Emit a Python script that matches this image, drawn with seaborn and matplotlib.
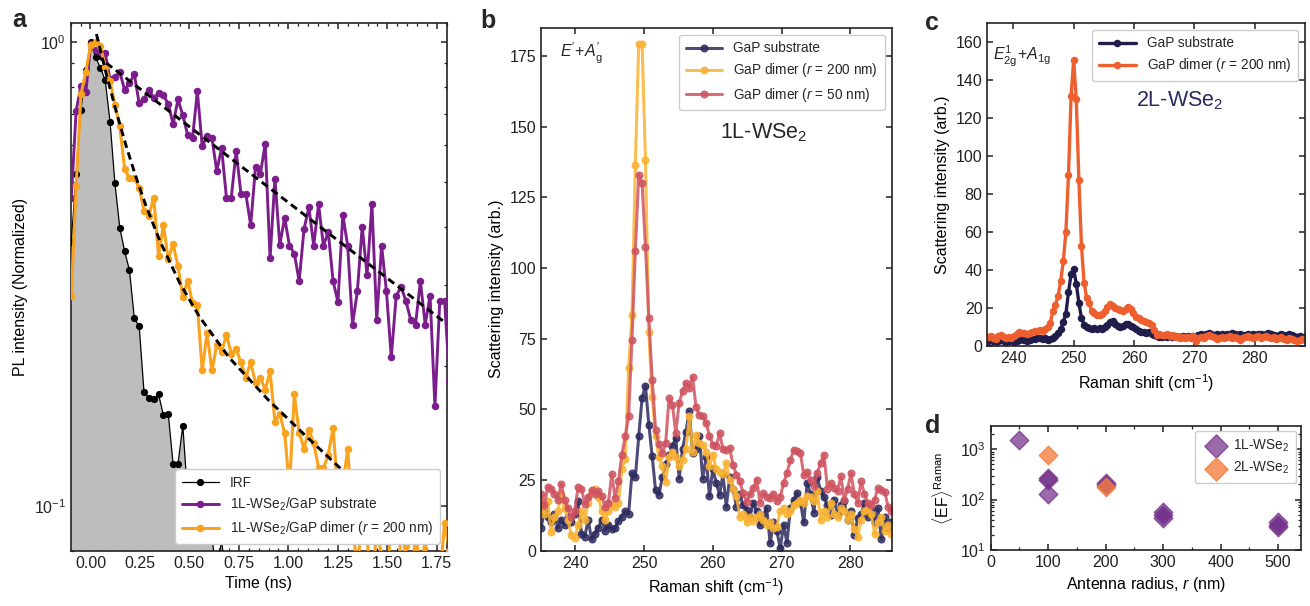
import numpy as np
import matplotlib
matplotlib.use("Agg")
import matplotlib.pyplot as plt
import seaborn as sns
from matplotlib.ticker import (MultipleLocator, FormatStrFormatter, LogLocator,
                               NullFormatter)

# ---------------- panel a: time-resolved photoluminescence ----------------
t_start, t_step = -0.097, 0.0245          # TCSPC bin grid (ns)

irf = [0.37, 0.52, 0.715, 0.87, 1.0, 0.927, 0.88, 0.826, 0.672, 0.496,
       0.398, 0.354, 0.322, 0.254, 0.244, 0.176, 0.171, 0.170, 0.174, 0.157,
       0.158, 0.123, 0.123, 0.149, 0.105, 0.095, 0.084, 0.092, 0.088, 0.086,
       0.070, 0.085, 0.066, 0.060, 0.055, 0.050, 0.045]

pl_substrate = [0.46, 0.71, 0.805, 0.78, 0.99, 0.96, 0.94, 0.945, 0.83, 0.84,
                0.862, 0.787, 0.815, 0.852, 0.737, 0.755, 0.789, 0.758, 0.775, 0.767,
                0.735, 0.665, 0.752, 0.695, 0.63, 0.62, 0.783, 0.596, 0.626, 0.622,
                0.527, 0.591, 0.462, 0.462, 0.582, 0.47, 0.47, 0.403, 0.538, 0.52,
                0.603, 0.342, 0.507, 0.365, 0.418, 0.364, 0.35, 0.305, 0.395, 0.44,
                0.364, 0.447, 0.364, 0.389, 0.305, 0.275, 0.424, 0.364, 0.246, 0.29,
                0.40, 0.314, 0.447, 0.252, 0.364, 0.29, 0.209, 0.283, 0.297, 0.277,
                0.252, 0.246, 0.305, 0.246, 0.284, 0.164, 0.277, 0.277, 0.186]

pl_dimer = [0.283, 0.49, 0.772, 0.862, 0.986, 1.0, 0.978, 0.884, 0.822, 0.732,
            0.658, 0.532, 0.509, 0.509, 0.485, 0.433, 0.422, 0.462, 0.346, 0.403,
            0.34, 0.367, 0.329, 0.282, 0.306, 0.274, 0.271, 0.196, 0.236, 0.196,
            0.222, 0.215, 0.234, 0.213, 0.218, 0.204, 0.189, 0.204, 0.184, 0.189,
            0.178, 0.195, 0.152, 0.158, 0.1435, 0.11, 0.174, 0.144, 0.133, 0.146,
            0.1365, 0.121, 0.1206, 0.129, 0.1475, 0.105, 0.11, 0.133, 0.095, 0.07,
            0.10, 0.085, 0.065, 0.09, 0.078, 0.06, 0.10, 0.117, 0.075, 0.082,
            0.06, 0.09, 0.07, 0.085, 0.065, 0.078, 0.07, 0.092, 0.08]

# exponential fits (single for substrate, bi-exponential for dimer)
fit_substrate_t = [0.03, 1.80]
fit_substrate_I = [0.935, 0.247]
fit_dimer_t = [0.03, 0.08, 0.13, 0.18, 0.23, 0.28, 0.35, 0.45, 0.55, 0.70,
               0.90, 1.10, 1.30, 1.50]
fit_dimer_I = [1.04, 0.852, 0.708, 0.597, 0.511, 0.444, 0.373, 0.303, 0.256,
               0.209, 0.169, 0.140, 0.1165, 0.098]

# ---------------- panel b: Raman, 1L-WSe2 ----------------
b_start, b_step = 235.0, 0.49
b_substrate = [8, 14, 12, 10, 13, 8, 11, 9, 12, 10,
               13, 17.5, 6, 5, 11, 4, 6, 8, 11, 7,
               9, 7.5, 8, 10.5, 12, 14, 13, 27.4, 25.9, 40.4,
               54, 58.4, 44.6, 33.4, 21.3, 19.8, 26, 30.5, 34, 37,
               40, 25.5, 36, 42, 49.3, 34.5, 36, 40.5, 25.5, 33,
               19.3, 29, 24, 19.8, 27, 15.6, 26, 22, 15.6, 20,
               16, 14.5, 12, 17, 14, 9, 12.5, 15, 2.6, 10,
               7, 0.8, 9, 2.8, 15, 18, 20.5, 17, 10, 24,
               20, 13.5, 26, 21, 19, 16, 12.5, 18, 13, 16,
               17.5, 11, 14, 5.5, 11.5, 13, 17, 12, 14.5, 10,
               15, 4, 12, 8, 10]
b_dimer200 = [17, 13, 17.5, 6.5, 12, 14, 20, 15, 11, 5.5,
              4.5, 9, 14, 11, 17, 21, 22, 19, 14, 11,
              14, 16, 15.5, 17, 29, 32.5, 64.7, 83.2, 136.5, 179.3,
              179.3, 138.3, 77.2, 54.5, 40.6, 33, 30, 24.2, 33, 35,
              33, 30, 32, 36, 47.5, 35, 41, 38, 37.5, 35,
              30, 34, 29, 28, 27, 31, 25, 22, 19.5, 12,
              13, 10, 12, 10.5, 12, 13, 11, 9, 10, 8,
              8.5, 14, 15, 13, 14, 16, 17, 18, 17, 19.5,
              19, 17.5, 21, 11, 14, 12, 17, 13, 12, 15,
              14, 11, 13, 7.5, 5, 11, 14, 15, 13, 6,
              10, 12, 7, 9, 6]
b_dimer50 = [20, 16, 22.5, 22, 20, 18, 23.5, 18, 15, 12,
             14, 22.5, 22, 16.5, 19, 21.5, 20, 21, 19.5, 15.5,
             17, 27, 18.5, 24.5, 34, 40.5, 47.5, 74.7, 106, 133,
             130, 107.5, 82.4, 60.5, 42.8, 37.8, 34.5, 38, 54, 51.7,
             41.6, 52.3, 56.4, 59.3, 57.5, 61.5, 50.8, 48.1, 47.8, 45.2,
             40.7, 37.5, 36.9, 41.6, 35.9, 35.7, 36.3, 30.4, 26.8, 24.5,
             20.3, 17.4, 20, 22.1, 25.1, 17, 20.3, 19, 18.6, 20,
             17.5, 19, 24, 27.4, 32, 35.7, 35.1, 34.5, 26.8, 28,
             25, 23, 27.5, 31, 34, 22, 24, 22.1, 21, 26.3,
             18, 22, 27.4, 20, 17, 24.5, 20, 17, 16, 18,
             22.1, 21.5, 20.9, 15.6, 14]

# ---------------- panel c: Raman, 2L-WSe2 ----------------
c_start, c_step = 235.81, 0.43
c_substrate = [3, 3.5, 3, 2.5, 3, 3.5, 3, 2.5, 3, 3.5,
               2.5, 3, 3.5, 4, 3.5, 3, 3.5, 4, 4, 4.5,
               4.5, 4, 4.5, 3.5, 4, 4.5, 5.5, 7, 9, 13,
               17, 28.5, 38, 40.5, 33, 23, 15, 11.5, 10, 9.5,
               9, 9.5, 9, 9.5, 9, 10, 11.5, 13, 13.5, 12,
               11, 10.5, 11, 12, 12, 11, 10, 9, 8, 7.5,
               7.5, 7, 7.5, 6.5, 6, 5.5, 5, 5, 5.5, 5,
               5.5, 5, 5.5, 5, 5, 5.5, 5, 5.5, 5, 5.5,
               5.5, 6, 6.5, 6, 6.5, 7, 6.5, 6, 6.5, 6,
               6.5, 6, 6.5, 6, 7, 6.5, 6, 6.5, 6, 6,
               6.5, 6, 6.5, 6, 6.5, 6.5, 6, 6.5, 7, 6.5,
               6, 5.5, 6, 6.5, 6, 5.5, 6.5, 6, 5.5, 5,
               5.5, 5, 5]
c_dimer200 = [5, 5.5, 4.5, 4, 5.5, 6, 5, 4.5, 5, 4.5,
              5.5, 6.5, 7.5, 7, 7, 6.5, 7, 7.5, 8, 8,
              8.5, 8, 9, 10, 12.5, 18.4, 21.9, 26.6, 34.2, 44.7,
              60.1, 89.9, 131.4, 150.4, 129.7, 87.6, 52.9, 33.6, 25.4, 22.8,
              18.4, 17.5, 16.6, 16.6, 17, 18.5, 21, 22.4, 21.5, 20.2,
              19.5, 19, 18.4, 19.5, 20.5, 19.5, 17.5, 15.5, 14.9, 13.7,
              13.4, 13.1, 12.5, 11.4, 8.5, 6.1, 6.5, 5.8, 6.1, 6.5,
              5.5, 6, 5, 5.5, 4.5, 5, 4.5, 5, 4.5, 5.5,
              3, 4.5, 5, 4.5, 5.5, 6, 5.5, 5, 4, 4.5,
              5, 4.5, 5, 5.5, 4.5, 5, 4.5, 3.5, 4.5, 5,
              5.5, 5, 4.5, 5, 5.5, 4.5, 5, 5.5, 5, 4.5,
              5, 4, 4.5, 5, 4, 3.5, 4.5, 4, 3.5, 3,
              3.5, 4, 3.5]

# ---------------- panel d: Raman enhancement factor ----------------
radius_1L = [50, 100, 100, 100, 200, 200, 300, 300, 300, 500, 500, 500]
ef_1L = [1550, 265, 250, 128, 215, 195, 57, 50, 43, 36, 32, 29]
radius_2L = [100, 200]
ef_2L = [760, 180]

# ---------------- colours ----------------
C_IRF, C_FILL = "black", "#bdbdbd"
C_PURPLE, C_AMBER = "#7b1e8c", "#f9a21e"
C_NAVY_B, C_YELLOW_B, C_RED_B = "#2e2b5f", "#f9b233", "#cf5461"
C_NAVY_C, C_ORANGE_C = "#201d4b", "#ee5f2f"
C_1L, C_2L = "#73308a", "#f47d3c"

# ---------------- style ----------------
sns.set_theme(style="ticks")
plt.rcParams.update({
    "font.family": ["Liberation Sans", "DejaVu Sans"],
    "mathtext.fontset": "custom",
    "mathtext.rm": "Liberation Sans",
    "mathtext.it": "Liberation Sans:italic",
    "mathtext.bf": "Liberation Sans:bold",
    "mathtext.sf": "Liberation Sans",
    "font.size": 11.5,
    "axes.labelsize": 11.5,
    "xtick.labelsize": 11.5,
    "ytick.labelsize": 11.5,
    "legend.fontsize": 9.8,
    "xtick.direction": "in",
    "ytick.direction": "in",
    "xtick.top": True,
    "ytick.right": True,
    "xtick.major.size": 4.2,
    "ytick.major.size": 4.2,
    "xtick.minor.size": 2.4,
    "ytick.minor.size": 2.4,
    "xtick.major.width": 1.1,
    "ytick.major.width": 1.1,
    "xtick.minor.width": 0.9,
    "ytick.minor.width": 0.9,
    "axes.linewidth": 1.2,
    "axes.edgecolor": "#222222",
    "xtick.color": "#222222",
    "ytick.color": "#222222",
    "axes.labelcolor": "black",
    "legend.edgecolor": "#cccccc",
    "legend.framealpha": 1.0,
})

W, H = 1310, 606
fig = plt.figure(figsize=(W / 100, H / 100), dpi=100)


def box(x0, y0, x1, y1):
    """Axes rectangle from pixel corners (top-left origin)."""
    return [x0 / W, 1 - y1 / H, (x1 - x0) / W, (y1 - y0) / H]


ax_a = fig.add_axes(box(70.7, 22.7, 446.7, 551))
ax_b = fig.add_axes(box(541, 27.7, 891.7, 550.7))
ax_c = fig.add_axes(box(987.3, 22.7, 1305, 346.5))
ax_d = fig.add_axes(box(990.7, 426, 1301, 550))

# ---------- a ----------
t_irf = t_start + t_step * np.arange(len(irf))
t_sub = t_start + t_step * np.arange(len(pl_substrate))
t_dim = t_start + t_step * np.arange(len(pl_dimer))

ax_a.fill_between(t_irf, 1e-3, irf, color=C_FILL, lw=0, zorder=1)
sns.lineplot(x=t_irf, y=irf, ax=ax_a, color=C_IRF, lw=0.9, marker="o",
             markersize=5.2, markeredgewidth=0, label="IRF", zorder=3)
sns.lineplot(x=t_sub, y=pl_substrate, ax=ax_a, color=C_PURPLE, lw=2.1,
             marker="o", markersize=5.4, markeredgewidth=0,
             label="1L-WSe$_2$/GaP substrate", zorder=4)
sns.lineplot(x=t_dim, y=pl_dimer, ax=ax_a, color=C_AMBER, lw=2.2,
             marker="o", markersize=5.4, markeredgewidth=0,
             label="1L-WSe$_2$/GaP dimer ($r$ = 200 nm)", zorder=5)
sns.lineplot(x=fit_substrate_t, y=fit_substrate_I, ax=ax_a, color="black",
             lw=2.1, linestyle=(0, (2.6, 1.6)), zorder=6)
sns.lineplot(x=fit_dimer_t, y=fit_dimer_I, ax=ax_a, color="black",
             lw=2.1, linestyle=(0, (2.6, 1.6)), zorder=6)

ax_a.set_yscale("log")
ax_a.set_xlim(-0.1, 1.8)
ax_a.set_ylim(0.08, 1.1)
ax_a.xaxis.set_major_locator(MultipleLocator(0.25))
ax_a.xaxis.set_minor_locator(MultipleLocator(0.05))
ax_a.xaxis.set_major_formatter(FormatStrFormatter("%.2f"))
ax_a.yaxis.set_major_locator(LogLocator(base=10, numticks=5))
ax_a.yaxis.set_minor_locator(LogLocator(base=10, subs=np.arange(2, 10) * 0.1, numticks=20))
ax_a.yaxis.set_minor_formatter(NullFormatter())
ax_a.set_xlabel("Time (ns)")
ax_a.set_ylabel("PL intensity (Normalized)")
h, l = ax_a.get_legend_handles_labels()
leg = ax_a.legend(h[:3], l[:3], loc="lower right", handlelength=2.7,
                  borderpad=0.5, labelspacing=0.45)
leg.set_zorder(10)

# ---------- b ----------
xb = b_start + b_step * np.arange(len(b_substrate))
for ys, col, lab in [(b_substrate, C_NAVY_B, "GaP substrate"),
                     (b_dimer200, C_YELLOW_B, "GaP dimer ($r$ = 200 nm)"),
                     (b_dimer50, C_RED_B, "GaP dimer ($r$ = 50 nm)")]:
    sns.lineplot(x=xb, y=ys, ax=ax_b, color=col, lw=2.2, marker="o",
                 markersize=5.0, markeredgewidth=0.8, markeredgecolor=col,
                 alpha=0.85, label=lab)
ax_b.set_xlim(235, 286)
ax_b.set_ylim(0, 185)
ax_b.xaxis.set_major_locator(MultipleLocator(10))
ax_b.yaxis.set_major_locator(MultipleLocator(25))
ax_b.set_xlabel("Raman shift (cm$^{-1}$)")
ax_b.set_ylabel("Scattering intensity (arb.)")
ax_b.legend(loc="upper right", handlelength=2.7, borderpad=0.5, labelspacing=0.45)
ax_b.text(0.055, 0.975, r"$E^{\prime}\!+\!A^{\prime}_{\mathrm{g}}$",
          transform=ax_b.transAxes, ha="left", va="top", fontsize=11.5)
ax_b.text(0.636, 0.80, "1L-WSe$_2$", transform=ax_b.transAxes,
          ha="center", va="center", fontsize=15.5)

# ---------- c ----------
xc = c_start + c_step * np.arange(len(c_substrate))
sns.lineplot(x=xc, y=c_substrate, ax=ax_c, color=C_NAVY_C, lw=2.4, marker="o",
             markersize=5.4, markeredgewidth=0, label="GaP substrate")
sns.lineplot(x=xc, y=c_dimer200, ax=ax_c, color=C_ORANGE_C, lw=2.4, marker="o",
             markersize=5.4, markeredgewidth=0, label="GaP dimer ($r$ = 200 nm)")
ax_c.set_xlim(235.7, 288.3)
ax_c.set_ylim(0, 170)
ax_c.xaxis.set_major_locator(MultipleLocator(10))
ax_c.yaxis.set_major_locator(MultipleLocator(20))
ax_c.set_xlabel("Raman shift (cm$^{-1}$)")
ax_c.set_ylabel("Scattering intensity (arb.)")
ax_c.legend(loc="upper right", handlelength=2.7, borderpad=0.5, labelspacing=0.45)
ax_c.text(0.017, 0.935, r"$E^{1}_{2\mathrm{g}}\!+\!A_{1\mathrm{g}}$",
          transform=ax_c.transAxes, ha="left", va="top", fontsize=11.5)
ax_c.text(0.607, 0.76, "2L-WSe$_2$", transform=ax_c.transAxes,
          ha="center", va="center", fontsize=15.5, color="#2b2a5e")

# ---------- d ----------
sns.scatterplot(x=radius_1L, y=ef_1L, ax=ax_d, marker="D", s=90, color=C_1L,
                alpha=0.72, edgecolor=C_1L, linewidth=1.0, label="1L-WSe$_2$")
sns.scatterplot(x=radius_2L, y=ef_2L, ax=ax_d, marker="D", s=90, color=C_2L,
                alpha=0.78, edgecolor=C_2L, linewidth=1.0, label="2L-WSe$_2$")
ax_d.set_yscale("log")
ax_d.set_xlim(0, 540)
ax_d.set_ylim(10, 2900)
ax_d.xaxis.set_major_locator(MultipleLocator(100))
ax_d.xaxis.set_minor_locator(MultipleLocator(50))
ax_d.yaxis.set_major_locator(LogLocator(base=10, numticks=6))
ax_d.yaxis.set_minor_locator(LogLocator(base=10, subs=np.arange(2, 10) * 0.1, numticks=20))
ax_d.yaxis.set_minor_formatter(NullFormatter())
ax_d.set_xlabel("Antenna radius, $r$ (nm)")
ax_d.set_ylabel(r"$\langle\mathrm{EF}\rangle^{\mathrm{Raman}}$")
ax_d.legend(loc="upper right", handletextpad=0.3, borderpad=0.5,
            labelspacing=0.45, borderaxespad=0.35, markerscale=1.25)

# ---------- panel letters ----------
for letter, x, y in [("a", 12, 27), ("b", 480, 28), ("c", 925, 30), ("d", 925, 433)]:
    fig.text(x / W, 1 - y / H, letter, fontsize=18, fontweight="bold",
             ha="left", va="baseline")

fig.savefig("out.png", dpi=100)
